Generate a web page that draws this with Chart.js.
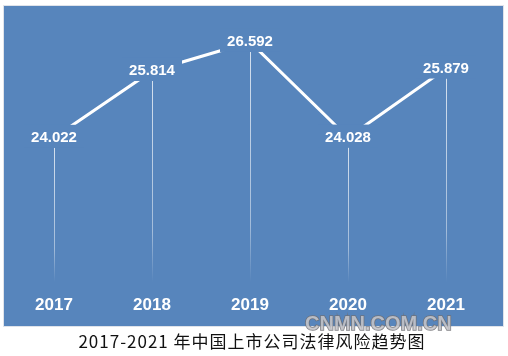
<!DOCTYPE html>
<html>
<head>
<meta charset="utf-8">
<script src="https://cdn.jsdelivr.net/npm/chart.js@4"></script>
<style>
html,body{margin:0;padding:0;background:#fff;}
#wrap{position:relative;width:508px;height:356px;}
</style>
</head>
<body>
<div id="wrap"><canvas id="c" width="508" height="356"></canvas></div>
<script>
const categories = ['2017', '2018', '2019', '2020', '2021'];
const riskValues = [24.022, 25.814, 26.592, 24.028, 25.879];
const valueLabels = ['24.022', '25.814', '26.592', '24.028', '25.879'];
const chartTitle = '2017-2021 年中国上市公司法律风险趋势图';
const watermark = 'CNMN.COM.CN';

const PANEL = '#5785bc';

const decor = {
  id: 'decor',
  beforeDraw(chart) {
    const ctx = chart.ctx;
    ctx.save();
    ctx.fillStyle = '#ffffff';
    ctx.fillRect(0, 0, chart.width, chart.height);
    ctx.fillStyle = '#dfe3ea';
    ctx.fillRect(3, 5, 501, 322);
    ctx.fillStyle = PANEL;
    ctx.fillRect(4, 6, 499, 320);
    ctx.restore();
  },
  beforeDatasetsDraw(chart) {
    const ctx = chart.ctx;
    const meta = chart.getDatasetMeta(0);
    ctx.save();
    meta.data.forEach((pt) => {
      const y0 = pt.y + 10;
      const y1 = 282;
      const g = ctx.createLinearGradient(0, y0, 0, y1);
      g.addColorStop(0, 'rgba(255,255,255,0.75)');
      g.addColorStop(0.75, 'rgba(255,255,255,0.45)');
      g.addColorStop(1, 'rgba(255,255,255,0)');
      ctx.strokeStyle = g;
      ctx.lineWidth = 1;
      ctx.beginPath();
      ctx.moveTo(Math.round(pt.x) + 0.5, y0);
      ctx.lineTo(Math.round(pt.x) + 0.5, y1);
      ctx.stroke();
    });
    ctx.restore();
  },
  afterDatasetsDraw(chart) {
    const ctx = chart.ctx;
    const meta = chart.getDatasetMeta(0);
    ctx.save();
    meta.data.forEach((pt, i) => {
      ctx.fillStyle = PANEL;
      ctx.fillRect(pt.x - 30, pt.y - 13, 60, 23);
    });
    ctx.fillStyle = '#ffffff';
    ctx.font = 'bold 15px "Liberation Sans", Arial, sans-serif';
    ctx.textAlign = 'center';
    ctx.textBaseline = 'middle';
    meta.data.forEach((pt, i) => {
      ctx.fillText(valueLabels[i], pt.x, pt.y);
    });
    // title
    ctx.fillStyle = '#111111';
    ctx.font = '17px "Noto Sans CJK SC", sans-serif';
    ctx.textAlign = 'center';
    ctx.textBaseline = 'middle';
    if ('letterSpacing' in ctx) ctx.letterSpacing = '1px';
    ctx.fillText(chartTitle, 252, 342);
    if ('letterSpacing' in ctx) ctx.letterSpacing = '0px';
    // watermark
    ctx.font = 'bold 20px "Liberation Sans", Arial, sans-serif';
    ctx.textAlign = 'left';
    ctx.lineWidth = 1.5;
    ctx.strokeStyle = 'rgba(110,110,115,0.85)';
    ctx.fillStyle = 'rgba(200,200,205,0.85)';
    ctx.strokeText(watermark, 305, 324);
    ctx.fillText(watermark, 305, 324);
    ctx.restore();
  }
};

new Chart(document.getElementById('c'), {
  type: 'line',
  data: {
    labels: categories,
    datasets: [{
      data: riskValues,
      borderColor: '#ffffff',
      borderWidth: 3,
      pointRadius: 0,
      tension: 0,
      fill: false
    }]
  },
  options: {
    responsive: false,
    animation: false,
    events: [],
    layout: { padding: { left: 5, right: 13, top: 6, bottom: 40 } },
    plugins: { legend: { display: false }, tooltip: { enabled: false }, title: { display: false } },
    scales: {
      x: {
        offset: true,
        grid: { display: false, drawTicks: false },
        border: { display: false },
        ticks: {
          color: '#ffffff',
          padding: 0,
          font: { family: '"Liberation Sans", Arial, sans-serif', size: 17, weight: 'bold', lineHeight: 1.2 }
        }
      },
      y: {
        display: false,
        min: 19.792,
        max: 27.556
      }
    }
  },
  plugins: [decor]
});
</script>
</body>
</html>
